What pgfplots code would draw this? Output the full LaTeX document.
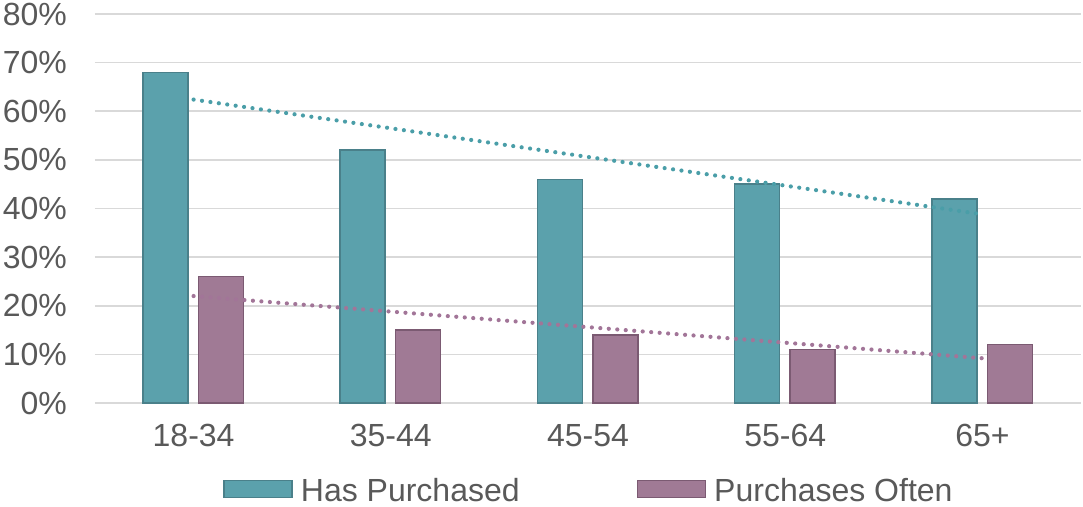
\documentclass[border=0pt]{standalone}
\usepackage{pgfplots}
\usepackage{pgfplotstable}
\pgfplotsset{compat=1.18}
\usepackage{fontspec}
\setmainfont{Liberation Sans}

\definecolor{txt}{HTML}{595959}
\definecolor{gridc}{HTML}{D9D9D9}
\definecolor{tealf}{HTML}{5BA1AC}
\definecolor{teald}{HTML}{4A808A}
\definecolor{tealt}{HTML}{4A9EA8}
\definecolor{purpf}{HTML}{A07A95}
\definecolor{purpd}{HTML}{7B5A72}
\definecolor{purpt}{HTML}{A27598}

% share of respondents (%) by age group
\pgfplotstableread{
x  group  has  often
0  18-34  68   26
1  35-44  52   15
2  45-54  46   14
3  55-64  45   11
4  65+    42   12
}\data

\begin{document}
\begin{tikzpicture}
\begin{axis}[
  scale only axis,
  width=493pt, height=194.5pt,
  xmin=-0.5, xmax=4.5, ymin=0, ymax=80,
  axis line style={draw=none},
  tick style={draw=none},
  ymajorgrids,
  grid style={gridc, line width=0.8pt},
  xtick={0,1,2,3,4},
  xticklabels={18-34,35-44,45-54,55-64,65+},
  ytick={0,10,20,30,40,50,60,70,80},
  yticklabels={0\%,10\%,20\%,30\%,40\%,50\%,60\%,70\%,80\%},
  tick label style={font=\fontsize{16}{19}\selectfont, text=txt},
  xticklabel style={yshift=-7pt},
  yticklabel style={xshift=-10.5pt},
  clip=false,
  legend columns=2,
  legend style={
    draw=none, fill=none,
    at={(axis description cs:0.5,-0.2275)}, anchor=center,
    font=\fontsize{16}{19}\selectfont, text=txt,
    inner sep=0pt, column sep=0pt, row sep=0pt,
    nodes={inner sep=0pt},
  },
]
\addplot[ybar, bar width=0.228, bar shift=-0.1425,
  fill=tealf, draw=teald, line width=0.75pt,
  legend image code/.code={%
    \fill[tealf, draw=teald, line width=0.75pt] (0pt,-3pt) rectangle (34pt,5.5pt);
    \path (38pt,0pt);}]
  table[x=x, y=has] {\data};
\addlegendentry{Has Purchased\kern58.5pt}

\addplot[ybar, bar width=0.228, bar shift=0.139,
  fill=purpf, draw=purpd, line width=0.75pt,
  legend image code/.code={%
    \fill[purpf, draw=purpd, line width=0.75pt] (0pt,-3pt) rectangle (34pt,5.5pt);
    \path (38pt,0pt);}]
  table[x=x, y=often] {\data};
\addlegendentry{Purchases Often}

% linear trend lines
\addplot[tealt, line width=2.1pt, line cap=round,
  dash pattern=on 0pt off 4.25pt, forget plot]
  table[x=x, y={create col/linear regression={y=has}}] {\data};
\addplot[purpt, line width=2.1pt, line cap=round,
  dash pattern=on 0pt off 4.25pt, forget plot]
  table[x=x, y={create col/linear regression={y=often}}] {\data};
\end{axis}
\pgfresetboundingbox
\path[use as bounding box] (-47.5pt,-52pt) rectangle (494pt,201.5pt);
\end{tikzpicture}
\end{document}
